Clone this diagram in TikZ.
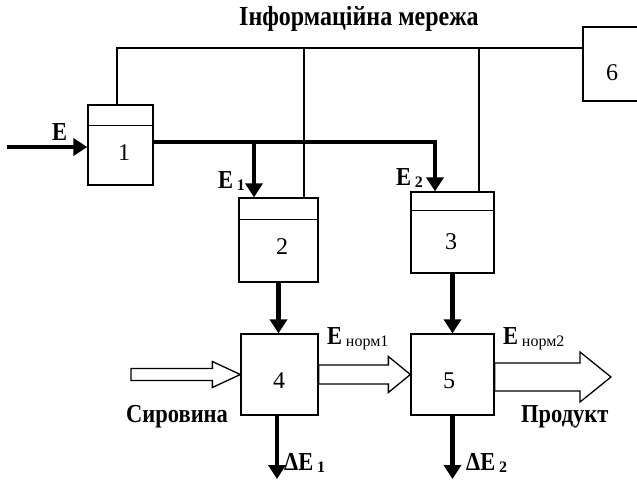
\documentclass[tikz,border=0pt]{standalone}
\usepackage{fontspec}
\setmainfont{Liberation Serif}
\usetikzlibrary{positioning,calc,arrows.meta}

% hollow arrow: from, to, half shaft, half head, head length
\newcommand{\hollowarrow}[5]{%
  \draw[hollow] let \p1=(#1), \p2=(#2) in
    (\x1,\y1+#3) -- (\x2-#5,\y1+#3) -- (\x2-#5,\y1+#4) -- (\x2,\y1)
    -- (\x2-#5,\y1-#4) -- (\x2-#5,\y1-#3) -- (\x1,\y1-#3) -- cycle;}
\newcommand{\sub}[1]{\,\raisebox{-2pt}{\mdseries\fontsize{16}{16}\selectfont #1}}
\newcommand{\tall}[1]{\scalebox{1}[1.15]{#1}}

\begin{document}
\begin{tikzpicture}[x=1pt,y=-1pt]
\tikzstyle{block}=[rectangle, draw=black, line width=1.3pt, inner sep=0pt]
\tikzstyle{num}=[font=\fontsize{24}{26}\selectfont, inner sep=0pt]
\tikzstyle{lbl}=[font=\bfseries\fontsize{22.5}{24}\selectfont, inner sep=0pt, anchor=base west]
\tikzstyle{net}=[line width=1.2pt]
\tikzstyle{flow}=[line width=4.8pt, -{Triangle[length=14pt,width=17pt]}]
\tikzstyle{hollow}=[draw=black, line width=1.3pt, fill=white, line join=miter]
\useasboundingbox (0,0) rectangle (637,480);

	\node[block, minimum width=65pt, minimum height=80pt] (b1) at (120.5,145) {};
	\node[block, minimum width=79pt, minimum height=84pt] (b2) at (278.5,240) {};
	\node[block, minimum width=83pt, minimum height=81pt] (b3) at (452.5,232.5) {};
	\node[block, minimum width=77pt, minimum height=81pt] (b4) at (279.5,374.5) {};
	\node[block, minimum width=83pt, minimum height=81pt] (b5) at (452.5,374.5) {};
	\node[block, minimum width=60pt, minimum height=74pt] (b6) at (613,64) {};

	\draw[net] ([yshift=-21pt]b1.north west) -- ([yshift=-21pt]b1.north east);
	\draw[net] ([yshift=-22pt]b2.north west) -- ([yshift=-22pt]b2.north east);
	\draw[net] ([yshift=-19pt]b3.north west) -- ([yshift=-19pt]b3.north east);

	\node[num] (n1) at (124,153) {1};
	\node[num] (n2) at (282,247) {2};
	\node[num] (n3) at (451,242) {3};
	\node[num] (n4) at (279,381) {4};
	\node[num] (n5) at (449,381) {5};
	\node[num] (n6) at (612,73) {6};

	% information network
	\node[lbl, font=\bfseries\fontsize{24}{26}\selectfont] (title) at (239,25) {\tall{Інформаційна мережа}};
	\coordinate (j1) at (117,48);
	\coordinate (j2) at (304,48);
	\coordinate (j3) at (479,48);
	\draw[net] (j1 |- b1.north) -- (j1) -- (j1 -| b6.west);
	\draw[net] (j2) -- (j2 |- b2.north);
	\draw[net] (j3) -- (j3 |- b3.north);

	% energy flows
	\coordinate (ein) at (7,147);
	\coordinate (t1) at (254,142);
	\coordinate (t2) at (435,142);
	\draw[flow] (ein) -- (ein -| b1.west);
	\draw[flow] (b1.east |- t1) -- (t2) -- (t2 |- b3.north);
	\draw[flow] (t1) -- (t1 |- b2.north);
	\draw[flow] (b2.south) -- (b2.south |- b4.north);
	\draw[flow] (b3.south) -- (b3.south |- b5.north);
	\coordinate (d1) at (277,479);
	\coordinate (d2) at (452.5,479);
	\draw[flow] (b4.south -| d1) -- (d1);
	\draw[flow] (b5.south) -- (d2);

	% material flows
	\coordinate (raw) at (131,374.5);
	\coordinate (prod) at (611,377);
	\hollowarrow{raw}{b4.west}{6pt}{13pt}{28pt}
	\hollowarrow{b4.east}{b5.west}{9.5pt}{18pt}{22pt}
	\hollowarrow{b5.east |- prod}{prod}{14pt}{25pt}{31pt}

	\node[lbl] (le) at (52,140) {\tall{E}};
	\node[lbl] (le1) at (218,188) {\tall{E}\sub{\bfseries 1}};
	\node[lbl] (le2) at (396,185) {\tall{E}\sub{\bfseries 2}};
	\node[lbl] (ln1) at (327,344) {\tall{E}\sub{норм1}};
	\node[lbl] (ln2) at (503,344) {\tall{E}\sub{норм2}};
	\node[lbl] (lraw) at (126,422) {\tall{Сировина}};
	\node[lbl] (lprod) at (521,422) {\tall{Продукт}};
	\node[lbl] (ld1) at (284,470) {\tall{ΔE}\sub{\bfseries 1}};
	\node[lbl] (ld2) at (466,470) {\tall{ΔE}\sub{\bfseries 2}};

\end{tikzpicture}
\end{document}
